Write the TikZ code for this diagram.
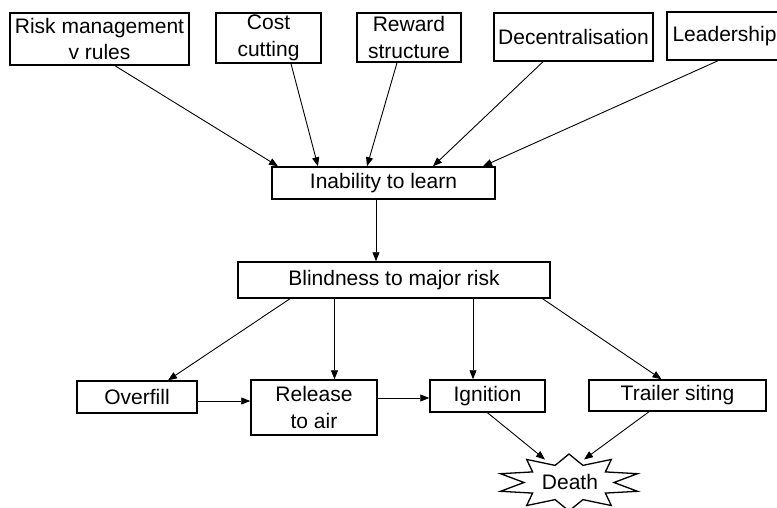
\documentclass[tikz,border=0pt]{standalone}
\usepackage{fontspec}
\setmainfont{Liberation Sans}
\usetikzlibrary{arrows.meta,shapes.geometric}

\begin{document}
\begin{tikzpicture}[x=1pt,y=-1pt,
  box/.style={draw, line width=1.5pt, inner sep=0pt, align=center,
              font=\fontsize{21}{26.5}\selectfont},
  arr/.style={draw, line width=0.9pt, -{Triangle[length=9pt,width=7pt]}},
  starline/.style={draw, line width=1.3pt, line join=miter},
]
\useasboundingbox (0,0) rectangle (777,508);

% causes along the top row
\node[box, minimum width=179pt, minimum height=52pt] (risk)   at (99.5,39)  {Risk management\\v rules};
\node[box, minimum width=105pt, minimum height=50pt] (cost)   at (268.5,38) {Cost\\cutting};
\node[box, minimum width=104pt, minimum height=49pt] (reward) at (409,37.5) {Reward\\structure};
\node[box, minimum width=159pt, minimum height=48pt] (decent) at (573.5,37) {Decentralisation};
\node[box, minimum width=115pt, minimum height=48pt] (leader) at (724.5,36) {Leadership};

% middle chain
\node[box, minimum width=223pt, minimum height=32pt] (inab)  at (383.5,183) {Inability to learn};
\node[box, minimum width=312pt, minimum height=36pt] (blind) at (394,280)   {Blindness to major risk};

% event row
\node[box, minimum width=120pt, minimum height=32pt] (overfill) at (137,397)   {Overfill};
\node[box, minimum width=126pt, minimum height=55pt] (release)  at (314,407.5) {Release\\to air};
\node[box, minimum width=115pt, minimum height=32pt] (ignition) at (487.5,396) {Ignition};
\node[box, minimum width=177pt, minimum height=31pt] (trailer)  at (677.5,395.5) {Trailer siting};

% outcome: a ten-pointed burst around the word
\node[inner sep=0pt, font=\fontsize{21}{26.5}\selectfont] (death) at (570,482) {Death};
\foreach \i in {0,...,19} {
  \pgfmathsetmacro\srx{isodd(\i) ? 45 : 72}
  \pgfmathsetmacro\sry{isodd(\i) ? 18 : 28.5}
  \coordinate (st\i) at ({569+\srx*cos(90+\i*18)}, {482.5-\sry*sin(90+\i*18)});
}
\draw[starline] (st0) \foreach \i in {1,...,19} { -- (st\i) } -- cycle;

% influences on learning
\draw[arr] ([xshift=15.5pt]risk.south)   -- ([xshift=-105.5pt]inab.north);
\draw[arr] ([xshift=22.5pt]cost.south)   -- ([xshift=-65.5pt]inab.north);
\draw[arr] ([xshift=-12pt]reward.south)  -- ([xshift=-16.5pt]inab.north);
\draw[arr] ([xshift=-30.5pt]decent.south) -- ([xshift=49.5pt]inab.north);
\draw[arr] ([xshift=-6.5pt]leader.south) -- ([xshift=99.5pt]inab.north);

\draw[arr] ([xshift=-7.5pt]inab.south) -- ([xshift=-18pt]blind.north);

% blindness feeds the events
\draw[arr] ([xshift=-104pt]blind.south)  -- ([xshift=31pt]overfill.north);
\draw[arr] ([xshift=-59.5pt]blind.south) -- ([xshift=20.5pt]release.north);
\draw[arr] ([xshift=79pt]blind.south)    -- ([xshift=-14.5pt]ignition.north);
\draw[arr] ([xshift=148.6pt]blind.south) -- ([xshift=-16pt]trailer.north);

% event sequence
\draw[arr] ([yshift=-4pt]overfill.east) -- ([yshift=6.5pt]release.west);
\draw[arr] ([yshift=9.5pt]release.east) -- ([yshift=-2pt]ignition.west);

\draw[arr] (ignition.south) -- ([shift={(-25,-22.5)}]death.center);
\draw[arr] ([xshift=-28.5pt]trailer.south) -- ([shift={(14,-22.5)}]death.center);
\end{tikzpicture}
\end{document}
